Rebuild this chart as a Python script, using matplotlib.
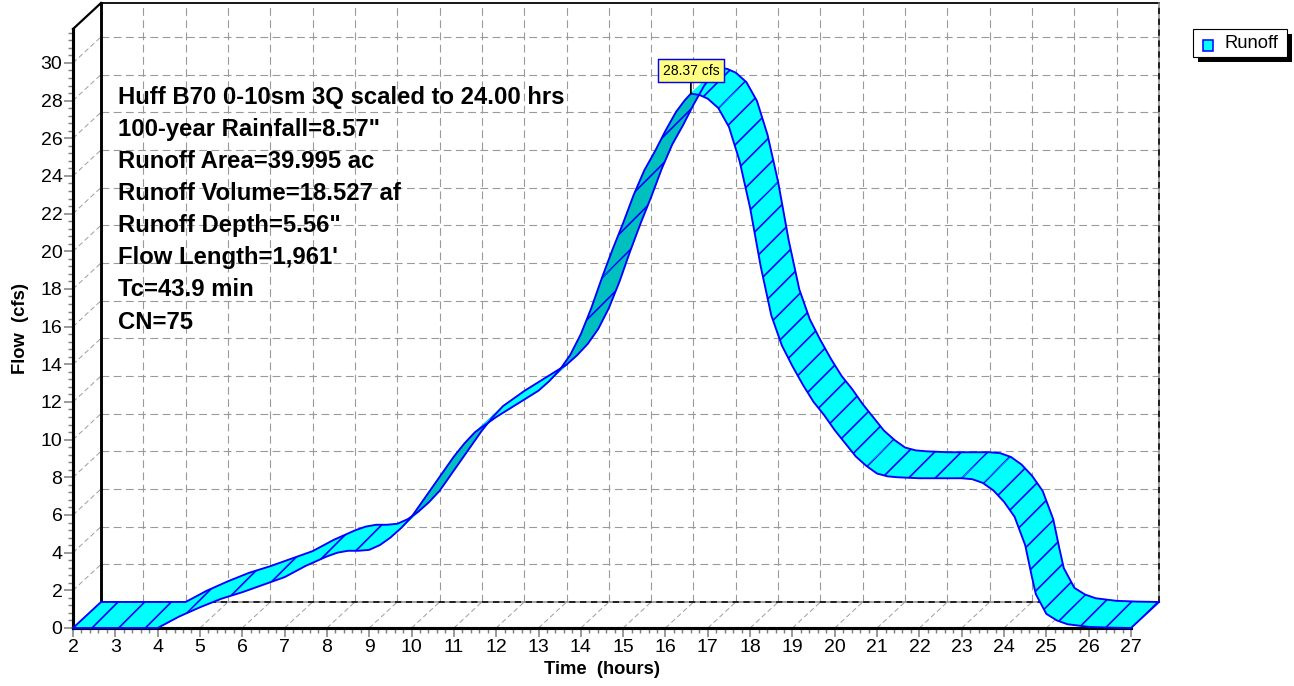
import matplotlib
matplotlib.use("Agg")
import matplotlib.pyplot as plt
import numpy as np
from matplotlib.patches import Polygon, Rectangle
from matplotlib.ticker import MultipleLocator

time_hr = [2.0, 3.0, 4.0, 4.25, 4.5, 4.75, 5.0, 5.5, 6.0, 6.5, 7.0, 7.5, 8.0,
           8.25, 8.5, 8.75, 9.0, 9.25, 9.5, 9.75, 10.0, 10.25, 10.5, 10.75, 11.0,
           11.25, 11.5, 11.75, 12.0, 12.5, 13.0, 13.25, 13.5, 13.75, 14.0,
           14.25, 14.5, 14.75, 15.0, 15.25, 15.5, 15.75, 16.0, 16.25, 16.45, 16.6,
           16.8, 17.0, 17.25, 17.5, 17.75, 18.0, 18.25, 18.5, 18.75, 19.0,
           19.25, 19.5, 19.75, 20.0, 20.25, 20.5, 20.75, 21.0, 21.25, 21.5,
           22.0, 22.5, 23.0, 23.25, 23.5, 23.75, 24.0, 24.25, 24.5, 24.65, 24.75,
           25.0, 25.25, 25.5, 26.0, 26.5, 27.0]
flow_cfs = [0, 0, 0, 0.3, 0.6, 0.85, 1.1, 1.55, 1.9, 2.3, 2.7, 3.3, 3.8,
            4.0, 4.1, 4.1, 4.15, 4.4, 4.8, 5.3, 5.9, 6.7, 7.5, 8.3, 9.1,
            9.8, 10.4, 10.8, 11.2, 11.9, 12.6, 13.1, 13.7, 14.5, 15.6,
            17.0, 18.6, 20.1, 21.5, 23.0, 24.3, 25.3, 26.4, 27.4, 28.0, 28.37,
            28.3, 28.1, 27.6, 26.6, 24.8, 22.3, 19.2, 16.6, 15.0, 13.9,
            12.9, 12.0, 11.3, 10.5, 9.8, 9.1, 8.6, 8.2, 8.05, 8.0,
            7.95, 7.95, 7.95, 7.9, 7.7, 7.3, 6.7, 5.9, 4.4, 2.8, 1.8,
            0.75, 0.4, 0.2, 0.06, 0.02, 0.0]

peak_time = 16.6
peak_label = "28.37 cfs"
series_name = "Runoff"

info_lines = [
    "Huff B70 0-10sm 3Q scaled to 24.00 hrs",
    "100-year Rainfall=8.57\"",
    "Runoff Area=39.995 ac",
    "Runoff Volume=18.527 af",
    "Runoff Depth=5.56\"",
    "Flow Length=1,961'",
    "Tc=43.9 min",
    "CN=75",
]

plt.rcParams["font.family"] = ["Liberation Sans", "DejaVu Sans"]
plt.rcParams["hatch.linewidth"] = 1.5

W, H, DPI = 1294, 686, 80
fig = plt.figure(figsize=(W / DPI, H / DPI), dpi=DPI)
ax = fig.add_axes([73 / W, 58 / H, 1058 / W, 599 / H])
X0, X1, YTOP = 2, 27, 31.8
ax.set_xlim(X0, X1)
ax.set_ylim(0, YTOP)

# depth of the fake 3d box, in pixels -> data units
DPX, DPY = 28, 26
px_hr = 1058 / (X1 - X0)
px_cfs = 599 / YTOP
DX, DY = DPX / px_hr, DPY / px_cfs

GRID = "#9a9a9a"
dash = (0, (7, 4))

# back wall grid
for t in range(X0 + 1, X1):
    ax.plot([t + DX] * 2, [DY, YTOP + DY], color=GRID, lw=1.0, ls=dash, zorder=1, clip_on=False)
for q in range(2, 32, 2):
    ax.plot([X0 + DX, X1 + DX], [q + DY] * 2, color=GRID, lw=1.0, ls=dash, zorder=1, clip_on=False)
# side wall and floor diagonals
for q in range(2, 32, 2):
    ax.plot([X0, X0 + DX], [q, q + DY], color="#a0a0a0", lw=0.9, ls=(0, (5, 3)), zorder=1, clip_on=False)
for t in range(X0 + 1, X1):
    ax.plot([t, t + DX], [0, DY], color="#a0a0a0", lw=0.9, ls=(0, (5, 3)), zorder=1, clip_on=False)

# back box edges
ax.plot([X0 + DX] * 2, [DY, YTOP + DY], color="k", lw=2.6, zorder=2, clip_on=False)
ax.plot([X0 + DX, X1 + DX], [YTOP + DY] * 2, color="k", lw=1.6, zorder=2, clip_on=False)
ax.plot([X1 + DX] * 2, [DY, YTOP + DY], color="#888888", lw=1.4, zorder=2, clip_on=False)
ax.plot([X1 + DX] * 2, [DY, YTOP + DY], color="k", lw=1.4, ls=(0, (4, 3)), zorder=2, clip_on=False)
ax.plot([X0 + DX, X1 + DX], [DY] * 2, color="#888888", lw=1.4, zorder=2, clip_on=False)
ax.plot([X0 + DX, X1 + DX], [DY] * 2, color="k", lw=1.4, ls=(0, (4, 3)), zorder=2, clip_on=False)
ax.plot([X0, X0 + DX], [YTOP, YTOP + DY], color="k", lw=2.0, zorder=2, clip_on=False)

# ribbon
t = np.array(time_hr)
q = np.array(flow_cfs)
LIGHT, DARK, EDGE = "#00ffff", "#00bfbf", "#0000ff"
for i in range(len(t) - 1):
    quad = [(t[i], q[i]), (t[i + 1], q[i + 1]),
            (t[i + 1] + DX, q[i + 1] + DY), (t[i] + DX, q[i] + DY)]
    sx = (t[i + 1] - t[i]) * px_hr
    sy = (q[i + 1] - q[i]) * px_cfs
    face = LIGHT if sx * DPY - sy * DPX >= 0 else DARK
    z = 3 + i * 0.001
    ax.add_patch(Polygon(quad, closed=True, fc=face, ec=face, lw=0.6, zorder=z, clip_on=False))
    ax.add_patch(Polygon(quad, closed=True, fc="none", ec=EDGE, lw=0, hatch="/",
                         zorder=z + 0.0005, clip_on=False))
ax.plot(t, q, color=EDGE, lw=1.7, zorder=5, clip_on=False)
ax.plot(t + DX, q + DY, color=EDGE, lw=1.7, zorder=5, clip_on=False)
for k in (0, -1):
    ax.plot([t[k], t[k] + DX], [q[k], q[k] + DY], color=EDGE, lw=1.7, zorder=5, clip_on=False)

# axes
for s in ("top", "right"):
    ax.spines[s].set_visible(False)
for s in ("left", "bottom"):
    ax.spines[s].set_linewidth(2.8)
    ax.spines[s].set_zorder(2.5)
ax.xaxis.set_major_locator(MultipleLocator(1))
ax.xaxis.set_minor_locator(MultipleLocator(0.2))
ax.yaxis.set_major_locator(MultipleLocator(2))
ax.yaxis.set_minor_locator(MultipleLocator(0.4))
ax.tick_params(which="major", direction="out", length=8, width=1.4, color="#808080",
               labelsize=17.5, pad=1.5)
ax.tick_params(which="minor", direction="out", length=4.5, width=1.3, color="#808080")
ax.set_facecolor("none")
ax.set_xlabel("Time  (hours)", fontsize=16.5, fontweight="bold", labelpad=5)
ax.set_ylabel("Flow  (cfs)", fontsize=16.5, fontweight="bold", labelpad=10)

# info block
for i, line in enumerate(info_lines):
    ax.text(0.0425, 0.886 - i * 0.0536, line, transform=ax.transAxes, fontsize=21.5,
            fontweight="bold", va="center", ha="left", zorder=6)

# peak label
peak_flow = q[time_hr.index(peak_time)]
ax.annotate(peak_label, xy=(peak_time, peak_flow), xytext=(0, 16), textcoords="offset pixels",
            ha="center", va="bottom", fontsize=12.5, zorder=8,
            bbox=dict(boxstyle="square,pad=0.35", fc="#ffff80", ec=EDGE, lw=1.3),
            arrowprops=dict(arrowstyle="-", color="k", lw=1.6, shrinkA=0, shrinkB=0))

# legend with hard shadow
fig.add_artist(Rectangle((1198 / W, 1 - 62 / H), 94 / W, 28 / H, fc="k", ec="none",
                         transform=fig.transFigure))
fig.add_artist(Rectangle((1193 / W, 1 - 57 / H), 94 / W, 28 / H, fc="white", ec="k", lw=1,
                         transform=fig.transFigure))
fig.add_artist(Rectangle((1203 / W, 1 - 51 / H), 10 / W, 11 / H, fc=LIGHT, ec=EDGE, lw=1.4,
                         transform=fig.transFigure))
fig.text(1224 / W, 1 - 44 / H, series_name, fontsize=16.5, va="center", ha="left")

fig.savefig("out.png", dpi=DPI)
